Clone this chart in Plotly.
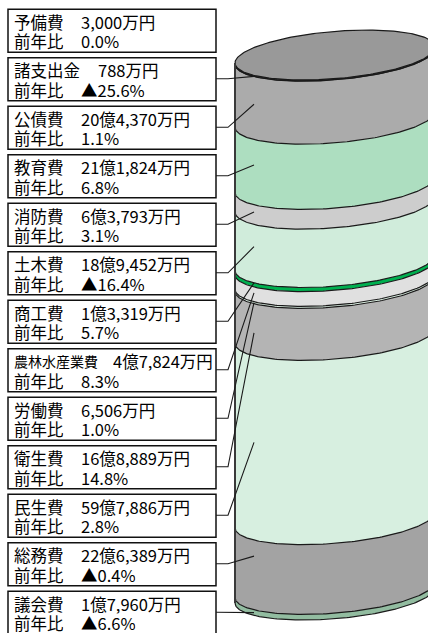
import numpy as np
import plotly.graph_objects as go

# ---------------- data (万円) ----------------
categories = ["予備費", "諸支出金", "公債費", "教育費", "消防費", "土木費", "商工費",
              "農林水産業費", "労働費", "衛生費", "民生費", "総務費", "議会費"]
amounts = [3000, 788, 204370, 211824, 63793, 189452, 13319,
           47824, 6506, 168889, 597886, 226389, 17960]
yoy_labels = ["0.0%", "▲25.6%", "1.1%", "6.8%", "3.1%", "▲16.4%", "5.7%",
              "8.3%", "1.0%", "14.8%", "2.8%", "▲0.4%", "▲6.6%"]

# ---------------- styles ----------------
colors = ["#A0A0A0", "#CBE8D5", "#ABABAB", "#ADDEC0", "#CDCDCD", "#D0ECDB", "#00B050",
          "#E0E0E0", "#DFF3E6", "#B4B4B4", "#D7EFE0", "#A3A3A3", "#92BCA0"]
top_face_color = "#999999"
leader_frac = [0.5, 0.5, 0.44, 0.39, 0.36, 0.38, 0.0, 0.4, 0.5, 0.56, 0.47, 0.23, 0.5]

W, H = 428, 633
CYL_LEFT_PX, CYL_R_PX = 235, 100
CX_PX = CYL_LEFT_PX + CYL_R_PX
CYL_TOP_PX, CYL_BOT_PX = 63, 603
ELL_B, ELL_S = 23.7, 8.0  # ellipse depth / tilt in px
BOX_LEFT, BOX_RIGHT = 8, 216
BOX_TOP0, BOX_PITCH, BOX_H = 9.3, 48.5, 43
ELBOW_PX, ANCHOR_PX = 228, 254
FONT = "Noto Sans CJK JP"
FS = 16.5
TXT_H = 18.5

total = sum(amounts)
vpp = total / (CYL_BOT_PX - CYL_TOP_PX)  # value per pixel


def fmt_amount(v):
    oku, man = divmod(v, 10000)
    return f"{oku}億{man:,}万円" if oku else f"{man:,}万円"


def px_to_x(px):
    return (px - CX_PX) / CYL_R_PX


def px_to_y(py):
    return (CYL_BOT_PX - py) * vpp


def ell_offset(t):
    # pixel offset (down positive) from left tip of a boundary ellipse
    return -ELL_S + ELL_B * np.sin(t) - ELL_S * np.cos(t)


def arc(v, t):
    return np.cos(t), v - vpp * ell_offset(t)


fig = go.Figure()

tops = [total - sum(amounts[:i]) for i in range(len(amounts))]
bots = [tops[i] - amounts[i] for i in range(len(amounts))]

t_front = np.linspace(np.pi, 0, 120)
# bands (side of cylinder)
for i, cat in enumerate(categories):
    xu, yu = arc(tops[i], t_front)
    xl, yl = arc(bots[i], t_front[::-1])
    fig.add_trace(go.Scatter(x=np.concatenate([xu, xl]), y=np.concatenate([yu, yl]),
                             fill="toself", fillcolor=colors[i], mode="lines",
                             line=dict(width=0), hoverinfo="skip", name=cat))

# boundary lines
for v in sorted(set(tops + bots)):
    xa, ya = arc(v, t_front)
    fig.add_trace(go.Scatter(x=xa, y=ya, mode="lines",
                             line=dict(color="#1a1a1a", width=1.2), hoverinfo="skip"))

# top face
t_full = np.linspace(0, 2 * np.pi, 240)
xt, yt = arc(total, t_full)
fig.add_trace(go.Scatter(x=xt, y=yt, fill="toself", fillcolor=top_face_color, mode="lines",
                         line=dict(color="#1a1a1a", width=1.2), hoverinfo="skip"))

# left edge
fig.add_trace(go.Scatter(x=[-1, -1], y=[0, total], mode="lines",
                         line=dict(color="#3a3a3a", width=2), hoverinfo="skip"))


def label(x_px, y_px, text, size):
    return dict(xref="paper", yref="paper", x=x_px / W, y=1 - y_px / H, text=text,
                xanchor="left", yanchor="middle", showarrow=False, height=TXT_H,
                borderpad=0, font=dict(family=FONT, size=size, color="black"))


# label boxes, texts, leaders
shapes, annotations = [], []
for i, cat in enumerate(categories):
    top = BOX_TOP0 + i * BOX_PITCH
    shapes.append(dict(type="rect", xref="paper", yref="paper",
                       x0=BOX_LEFT / W, x1=BOX_RIGHT / W,
                       y0=1 - (top + BOX_H) / H, y1=1 - top / H,
                       line=dict(color="#111111", width=1.5), fillcolor="white", layer="below"))
    n = len(cat)
    name_size = 14 if n >= 6 else FS
    val_x = 80 if n <= 3 else (97 if n == 4 else 112)
    annotations += [
        label(12.5, top + 13, cat, name_size),
        label(val_x, top + 13, fmt_amount(amounts[i]), FS),
        label(12.5, top + 32.5, "前年比", FS),
        label(80, top + 32.5, yoy_labels[i], FS),
    ]
    if i == 0:
        continue
    ly = px_to_y(top + 21)
    xe = px_to_x(ANCHOR_PX)
    te = np.arccos(xe)
    ye = tops[i] - leader_frac[i] * amounts[i] - vpp * ell_offset(te)
    fig.add_trace(go.Scatter(x=[px_to_x(BOX_RIGHT), px_to_x(ELBOW_PX), xe], y=[ly, ly, ye],
                             mode="lines", line=dict(color="#1a1a1a", width=1.1),
                             hoverinfo="skip"))

fig.update_layout(
    width=W, height=H, margin=dict(l=0, r=0, t=0, b=0),
    paper_bgcolor="white", plot_bgcolor="white", showlegend=False,
    xaxis=dict(range=[px_to_x(0), px_to_x(W)], visible=False, fixedrange=True),
    yaxis=dict(range=[px_to_y(H), px_to_y(0)], visible=False, fixedrange=True),
    shapes=shapes, annotations=annotations,
)

fig.write_html("out.html", config={"displayModeBar": False},
               post_script="document.body.style.margin='0';document.body.style.overflow='hidden';")
